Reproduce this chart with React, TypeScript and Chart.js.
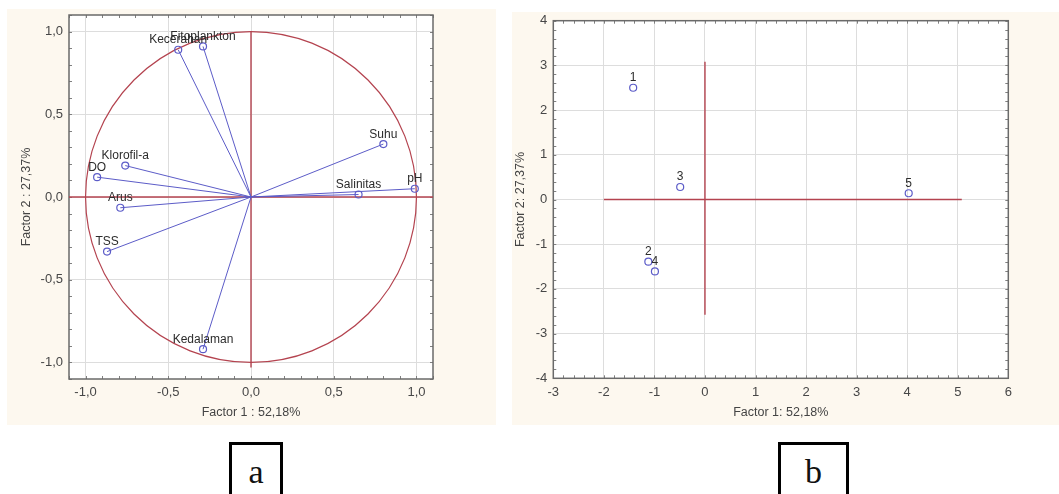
import React, { useEffect, useRef } from 'react';
import { Chart, registerables } from 'chart.js';

Chart.register(...registerables);

// ---------- Data: panel a (factor loadings) ----------
const variables = ['Kecerahan', 'Fitoplankton', 'Suhu', 'pH', 'Salinitas', 'Klorofil-a', 'DO', 'Arus', 'TSS', 'Kedalaman'];
const factor1Loadings = [-0.44, -0.29, 0.8, 0.99, 0.65, -0.76, -0.93, -0.79, -0.87, -0.29];
const factor2Loadings = [0.89, 0.91, 0.32, 0.05, 0.015, 0.19, 0.12, -0.065, -0.33, -0.92];
const loadingTicks = [-1, -0.5, 0, 0.5, 1];
const loadingAxisX = [-1.1, 1.1];
const loadingAxisY = [-1.03, 1.0];

// ---------- Data: panel b (factor scores of stations) ----------
const stations = ['1', '2', '3', '4', '5'];
const stationFactor1 = [-1.42, -1.12, -0.49, -0.99, 4.03];
const stationFactor2 = [2.5, -1.39, 0.28, -1.61, 0.14];
const scoreXTicks = [-3, -2, -1, 0, 1, 2, 3, 4, 5, 6];
const scoreYTicks = [-4, -3, -2, -1, 0, 1, 2, 3, 4];
const scoreCrossX = [-2, 5.08];
const scoreCrossY = [-2.58, 3.08];

const FONT = "'Liberation Sans', Arial, sans-serif";
const RED = '#b4434f';
const BLUE = '#5c5cc8';
const BG = '#fdf8ef';

const framePlugin = {
  id: 'frame',
  beforeDraw(chart: any) {
    const { ctx, chartArea: a } = chart;
    ctx.save();
    ctx.fillStyle = '#ffffff';
    ctx.fillRect(a.left, a.top, a.right - a.left, a.bottom - a.top);
    ctx.restore();
  },
  beforeDatasetsDraw(chart: any, _args: any, opts: any) {
    const { ctx, chartArea: a, scales } = chart;
    const xs = scales.x;
    const ys = scales.y;
    ctx.save();
    if (opts.circle) {
      const cx = xs.getPixelForValue(0);
      const cy = ys.getPixelForValue(0);
      const rx = xs.getPixelForValue(1) - cx;
      const ry = cy - ys.getPixelForValue(1);
      ctx.beginPath();
      ctx.ellipse(cx, cy, rx, ry, 0, 0, Math.PI * 2);
      ctx.strokeStyle = RED;
      ctx.lineWidth = 1.2;
      ctx.stroke();
    }
    ctx.strokeStyle = '#808080';
    ctx.lineWidth = 1;
    const step = opts.minorStep;
    const tl = 3;
    ctx.beginPath();
    for (let i = Math.ceil(xs.min / step - 1e-9); i <= Math.floor(xs.max / step + 1e-9); i++) {
      const px = Math.round(xs.getPixelForValue(i * step)) + 0.5;
      ctx.moveTo(px, a.bottom);
      ctx.lineTo(px, a.bottom - tl);
      ctx.moveTo(px, a.top);
      ctx.lineTo(px, a.top + tl);
    }
    for (let i = Math.ceil(ys.min / step - 1e-9); i <= Math.floor(ys.max / step + 1e-9); i++) {
      const py = Math.round(ys.getPixelForValue(i * step)) + 0.5;
      ctx.moveTo(a.left, py);
      ctx.lineTo(a.left + tl, py);
      ctx.moveTo(a.right, py);
      ctx.lineTo(a.right - tl, py);
    }
    ctx.stroke();
    ctx.strokeStyle = '#6a6a6a';
    ctx.lineWidth = 1.5;
    ctx.strokeRect(a.left, a.top, a.right - a.left, a.bottom - a.top);
    ctx.restore();
  },
  afterDatasetsDraw(chart: any, _args: any, opts: any) {
    const { ctx, scales } = chart;
    ctx.save();
    ctx.font = `12px ${FONT}`;
    ctx.fillStyle = '#2c2c2c';
    ctx.textAlign = 'center';
    ctx.textBaseline = 'alphabetic';
    (opts.items || []).forEach((it: any) => {
      const px = scales.x.getPixelForValue(it.x);
      const py = scales.y.getPixelForValue(it.y);
      ctx.fillText(it.text, px, py - 6.5);
    });
    ctx.restore();
  },
};

function makeScales(opts: any) {
  const tickFont = { family: FONT, size: 13 };
  const titleFont = { family: FONT, size: 12.5 };
  return {
    x: {
      type: 'linear',
      min: opts.xMin,
      max: opts.xMax,
      afterBuildTicks: (s: any) => {
        s.ticks = opts.xTicks.map((v: number) => ({ value: v }));
      },
      afterFit: (s: any) => {
        s.height = opts.xHeight;
      },
      ticks: {
        font: tickFont,
        color: '#474747',
        padding: opts.xTickPad,
        callback: opts.fmt,
        maxRotation: 0,
        autoSkip: false,
      },
      grid: { color: '#dddddd', lineWidth: 1, drawTicks: false },
      border: { display: false },
      title: {
        display: true,
        text: opts.xTitle,
        font: titleFont,
        color: '#444',
        padding: { top: 0, bottom: opts.xTitlePad },
      },
    },
    y: {
      type: 'linear',
      min: opts.yMin,
      max: opts.yMax,
      afterBuildTicks: (s: any) => {
        s.ticks = opts.yTicks.map((v: number) => ({ value: v }));
      },
      afterFit: (s: any) => {
        s.width = opts.yWidth;
      },
      ticks: {
        font: tickFont,
        color: '#474747',
        padding: 6,
        callback: opts.fmt,
        autoSkip: false,
      },
      grid: { color: '#dddddd', lineWidth: 1, drawTicks: false },
      border: { display: false },
      title: {
        display: true,
        text: opts.yTitle,
        font: titleFont,
        color: '#444',
        padding: { top: opts.yTitlePad, bottom: 0 },
      },
    },
  };
}

function lineSeg(xs: number[], ys: number[], color: string) {
  return {
    type: 'line',
    data: [
      { x: xs[0], y: ys[0] },
      { x: xs[1], y: ys[1] },
    ],
    showLine: true,
    fill: false,
    borderColor: color,
    backgroundColor: color,
    borderWidth: 1.4,
    pointRadius: 0,
    order: 5,
  };
}

export default function App() {
  const refA = useRef<HTMLCanvasElement>(null);
  const refB = useRef<HTMLCanvasElement>(null);

  useEffect(() => {
    const fmt1 = (v: any) => Number(v).toFixed(1).replace('.', ',');
    const fmt0 = (v: any) => String(v);

    const vectorSets = variables.map((name, i) => ({
      label: name,
      data: [
        { x: 0, y: 0 },
        { x: factor1Loadings[i], y: factor2Loadings[i] },
      ],
      showLine: true,
      borderColor: BLUE,
      backgroundColor: BLUE,
      borderWidth: 1,
      pointRadius: [0, 3.5],
      pointBorderColor: BLUE,
      pointBackgroundColor: 'rgba(0,0,0,0)',
      pointBorderWidth: 1.2,
      order: 1,
    }));

    const chartA = new Chart(refA.current as HTMLCanvasElement, {
      type: 'scatter',
      data: {
        datasets: [
          lineSeg(loadingAxisX, [0, 0], RED),
          lineSeg([0, 0], loadingAxisY, RED),
          ...vectorSets,
        ] as any,
      },
      options: {
        responsive: false,
        animation: false,
        events: [],
        layout: { padding: { left: 0, top: 15, right: 67, bottom: 0 } },
        scales: makeScales({
          xMin: -1.1,
          xMax: 1.1,
          yMin: -1.1,
          yMax: 1.1,
          xTicks: loadingTicks,
          yTicks: loadingTicks,
          fmt: fmt1,
          xHeight: 51,
          yWidth: 69,
          xTickPad: 6,
          xTitle: 'Factor 1 : 52,18%',
          yTitle: 'Factor 2 : 27,37%',
          xTitlePad: 9.5,
          yTitlePad: 19.5,
        }) as any,
        plugins: {
          legend: { display: false },
          tooltip: { enabled: false },
          frame: {
            circle: true,
            minorStep: 0.1,
            items: variables.map((t, i) => ({ text: t, x: factor1Loadings[i], y: factor2Loadings[i] })),
          },
        } as any,
      },
      plugins: [framePlugin],
    });

    const chartB = new Chart(refB.current as HTMLCanvasElement, {
      type: 'scatter',
      data: {
        datasets: [
          lineSeg(scoreCrossX, [0, 0], RED),
          lineSeg([0, 0], scoreCrossY, RED),
          {
            data: stations.map((_, i) => ({ x: stationFactor1[i], y: stationFactor2[i] })),
            showLine: false,
            borderColor: BLUE,
            backgroundColor: 'rgba(0,0,0,0)',
            pointRadius: 3.5,
            pointBorderColor: BLUE,
            pointBackgroundColor: 'rgba(0,0,0,0)',
            pointBorderWidth: 1.2,
            order: 1,
          },
        ] as any,
      },
      options: {
        responsive: false,
        animation: false,
        events: [],
        layout: { padding: { left: 0, top: 20.7, right: 50.7, bottom: 0 } },
        scales: makeScales({
          xMin: -3,
          xMax: 6,
          yMin: -4,
          yMax: 4,
          xTicks: scoreXTicks,
          yTicks: scoreYTicks,
          fmt: fmt0,
          xHeight: 51.7,
          yWidth: 48.3,
          xTickPad: 6.6,
          xTitle: 'Factor 1: 52,18%',
          yTitle: 'Factor 2: 27,37%',
          xTitlePad: 9.5,
          yTitlePad: 8.2,
        }) as any,
        plugins: {
          legend: { display: false },
          tooltip: { enabled: false },
          frame: {
            circle: false,
            minorStep: 0.2,
            items: stations.map((t, i) => ({ text: t, x: stationFactor1[i], y: stationFactor2[i] })),
          },
        } as any,
      },
      plugins: [framePlugin],
    });

    return () => {
      chartA.destroy();
      chartB.destroy();
    };
  }, []);

  const box = (left: number, width: number, letter: string) => (
    <div
      style={{
        position: 'absolute',
        left,
        top: 442,
        width: width - 6,
        height: 60,
        border: '3px solid #000',
        borderBottom: 'none',
        background: '#fff',
        fontFamily: "'Liberation Serif', 'Times New Roman', serif",
        fontSize: 34,
        lineHeight: '54px',
        textAlign: 'center',
        color: '#111',
      }}
    >
      {letter}
    </div>
  );

  return (
    <div style={{ position: 'absolute', left: 0, top: 0, width: 1059, height: 494, overflow: 'hidden', background: '#fff' }}>
      <div style={{ position: 'absolute', left: 7, top: 9, width: 489, height: 416, background: BG }} />
      <div style={{ position: 'absolute', left: 512, top: 12, width: 547, height: 413, background: BG }} />
      <canvas ref={refA} width={500} height={430} style={{ position: 'absolute', left: 0, top: 0 }} />
      <canvas ref={refB} width={554} height={430} style={{ position: 'absolute', left: 505, top: 0 }} />
      {box(229, 54, 'a')}
      {box(778, 71, 'b')}
    </div>
  );
}
